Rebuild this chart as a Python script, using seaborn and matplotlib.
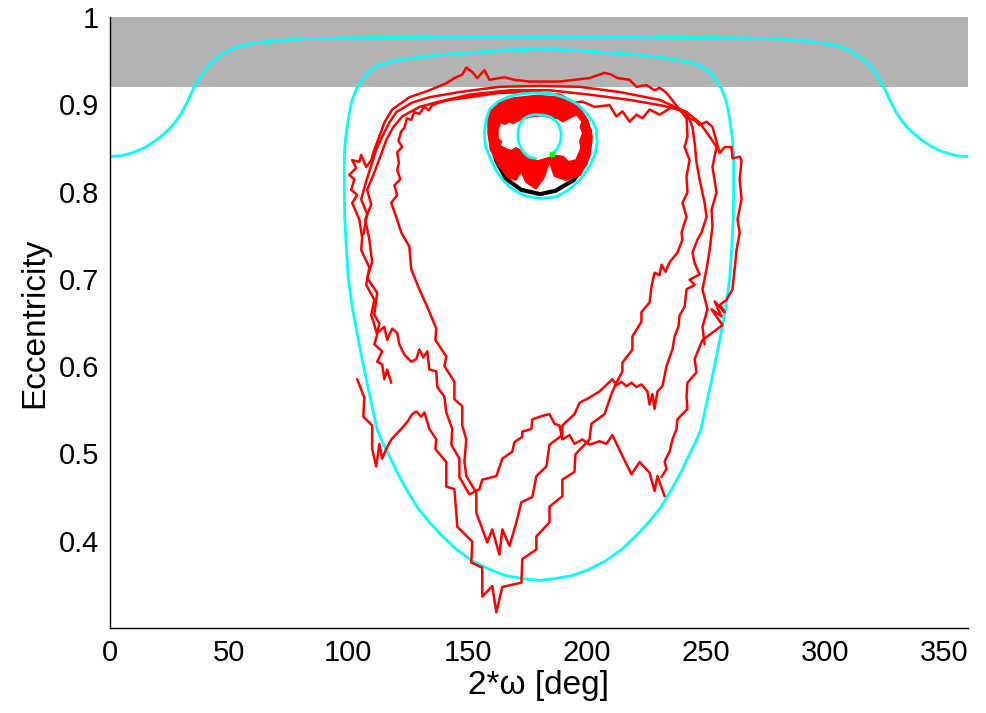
import matplotlib
matplotlib.use("Agg")
import matplotlib.pyplot as plt
import seaborn as sns
import pandas as pd

# ---- level curves of the secular Hamiltonian (cyan) ----
circ_omega = [0, 5, 10, 15, 20, 25, 27.5, 30, 32.5, 35, 37.5, 40, 42.5, 45, 47.5, 50, 55, 60, 70, 80,
              100, 140, 180, 220, 260, 280, 290, 300, 305, 310, 312.5, 315, 317.5, 320, 322.5, 325,
              327.5, 330, 332.5, 335, 340, 345, 350, 355, 360]
circ_ecc = [0.840, 0.841, 0.845, 0.851, 0.860, 0.872, 0.880, 0.890, 0.903, 0.918, 0.930, 0.940, 0.948,
            0.953, 0.958, 0.962, 0.967, 0.970, 0.973, 0.975, 0.976, 0.977, 0.977, 0.977, 0.976, 0.975,
            0.973, 0.970, 0.967, 0.962, 0.958, 0.953, 0.948, 0.940, 0.930, 0.918, 0.903, 0.890, 0.880,
            0.872, 0.860, 0.851, 0.845, 0.841, 0.840]

lib_outer = [(180.0, 0.9635), (195.0, 0.962), (209.2, 0.959), (220.0, 0.957), (230.2, 0.954),
             (240.0, 0.950), (247.0, 0.945), (251.2, 0.938), (254.2, 0.928), (256.5, 0.918),
             (258.4, 0.905), (259.6, 0.890), (260.5, 0.874), (261.2, 0.860), (261.7, 0.840),
             (261.7, 0.799), (261.5, 0.770), (260.9, 0.737), (260.0, 0.700), (258.4, 0.668),
             (255.5, 0.625), (252.5, 0.585), (247.9, 0.527), (245.5, 0.512), (242.8, 0.497),
             (239.5, 0.478), (235.7, 0.459), (231.0, 0.438), (226.0, 0.421), (220.5, 0.405),
             (214.7, 0.390), (208.0, 0.377), (200.8, 0.367), (194.0, 0.360), (185.3, 0.356),
             (180.0, 0.3545), (174.7, 0.356), (166.0, 0.360), (159.2, 0.367), (152.0, 0.377),
             (145.3, 0.390), (139.5, 0.405), (134.0, 0.421), (129.0, 0.438), (124.3, 0.459),
             (120.5, 0.478), (117.2, 0.497), (114.5, 0.512), (112.1, 0.527), (107.5, 0.585),
             (104.5, 0.625), (101.6, 0.668), (100.0, 0.700), (99.1, 0.737), (98.5, 0.770),
             (98.3, 0.799), (98.3, 0.840), (98.8, 0.860), (99.5, 0.874), (100.4, 0.890),
             (101.6, 0.905), (103.5, 0.918), (105.8, 0.928), (108.8, 0.938), (113.0, 0.945),
             (120.0, 0.950), (129.8, 0.954), (140.0, 0.957), (150.8, 0.959), (165.0, 0.962),
             (180.0, 0.9635)]

lib_inner = [(157.1, 0.867), (157.8, 0.882), (159.2, 0.894), (162.8, 0.903), (167.6, 0.909),
             (172.8, 0.912), (178.8, 0.913), (185.5, 0.912), (191.4, 0.907), (196.2, 0.900),
             (199.8, 0.890), (202.4, 0.881), (204.0, 0.871), (204.4, 0.856), (203.4, 0.842),
             (201.2, 0.829), (198.0, 0.816), (194.2, 0.806), (190.8, 0.799), (187.2, 0.794),
             (180.9, 0.792), (175.8, 0.794), (171.8, 0.798), (167.8, 0.805), (164.8, 0.813),
             (161.8, 0.825), (159.9, 0.836), (157.5, 0.852), (157.1, 0.867)]

lib_core = [(178.5, 0.838), (176.2, 0.839), (174.6, 0.842), (173.0, 0.847), (172.1, 0.852),
            (171.3, 0.858), (171.1, 0.865), (171.4, 0.872), (172.1, 0.878), (173.5, 0.883),
            (175.3, 0.886), (177.7, 0.888), (180.2, 0.888), (182.8, 0.887), (185.1, 0.885),
            (187.0, 0.881), (188.3, 0.876), (189.1, 0.870), (189.3, 0.865), (189.1, 0.859),
            (188.6, 0.854), (187.9, 0.850), (186.9, 0.847), (185.5, 0.843)]

# ---- averaged orbit (black) and dense short-period orbit (red band) ----
avg_orbit = [(160.2, 0.867), (161.2, 0.890), (167.8, 0.903), (178.8, 0.907), (190.5, 0.901),
             (198.0, 0.887), (201.3, 0.870), (201.5, 0.856), (199.5, 0.832), (194.5, 0.813),
             (187.0, 0.801), (180.5, 0.797), (172.5, 0.802), (166.0, 0.815), (162.0, 0.836),
             (160.5, 0.852), (160.2, 0.867)]

band_outer = [(158.3, 0.886), (159.3, 0.896), (162.0, 0.902), (169.0, 0.908), (178.8, 0.911),
              (188.6, 0.909), (197.0, 0.898), (200.8, 0.882), (202.6, 0.863), (201.6, 0.840),
              (197.5, 0.818), (191.4, 0.812), (186.2, 0.817), (184.4, 0.831), (182.3, 0.815),
              (178.8, 0.802), (174.3, 0.810), (172.5, 0.821), (170.4, 0.812), (166.8, 0.815),
              (162.8, 0.829), (159.3, 0.848), (158.3, 0.867)]

band_hole = [(163.1, 0.871), (164.1, 0.878), (165.8, 0.876), (167.6, 0.879), (169.2, 0.877),
             (171.1, 0.880), (173.9, 0.883), (177.4, 0.885), (180.9, 0.886), (184.4, 0.884),
             (187.5, 0.883), (190.0, 0.879), (192.8, 0.883), (195.6, 0.887), (197.7, 0.880),
             (197.0, 0.874), (198.0, 0.867), (196.8, 0.858), (197.3, 0.850), (195.3, 0.837),
             (192.5, 0.835), (190.3, 0.841), (187.5, 0.842), (184.4, 0.840), (179.5, 0.836),
             (176.0, 0.840), (173.2, 0.847), (170.4, 0.851), (168.5, 0.848), (166.9, 0.849),
             (164.1, 0.853), (164.6, 0.858), (163.1, 0.861)]

start_point = (185.5, 0.843)

# ---- chaotic orbit (red) ----
orbit_a = [
    (103.7, 0.585), (106.7, 0.564), (106.3, 0.542), (110.0, 0.532), (110.0, 0.505), (111.7, 0.485),
    (113.0, 0.511), (114.2, 0.494), (115.9, 0.505), (118.0, 0.516), (120.1, 0.522), (122.2, 0.528),
    (124.7, 0.536), (126.8, 0.545), (128.5, 0.548), (130.6, 0.542), (131.9, 0.547), (134.0, 0.528),
    (136.9, 0.516), (136.5, 0.505), (141.1, 0.490), (141.1, 0.462), (144.5, 0.459), (145.3, 0.432),
    (145.7, 0.416), (152.0, 0.399), (151.6, 0.375), (156.2, 0.369), (156.2, 0.336), (160.4, 0.348),
    (162.1, 0.318), (164.6, 0.347), (172.6, 0.352), (173.0, 0.379), (178.9, 0.390), (178.9, 0.405),
    (184.4, 0.421), (184.4, 0.439), (189.8, 0.451), (189.8, 0.470), (194.9, 0.479), (195.3, 0.499),
    (201.2, 0.516), (202.0, 0.534), (207.5, 0.545), (210.4, 0.568), (212.5, 0.581), (215.0, 0.594),
    (215.0, 0.604), (219.2, 0.619), (219.2, 0.634), (223.0, 0.651), (223.0, 0.662), (226.4, 0.673),
    (227.2, 0.691), (228.5, 0.707), (230.6, 0.704), (231.4, 0.716), (233.1, 0.708), (234.8, 0.719),
    (238.1, 0.730), (240.2, 0.745), (239.8, 0.753), (241.9, 0.771), (240.2, 0.787), (242.3, 0.799),
    (241.9, 0.817), (243.2, 0.836), (241.1, 0.851), (242.3, 0.863), (241.9, 0.886), (239.0, 0.894),
    (236.0, 0.897), (230.6, 0.888), (226.4, 0.894), (223.4, 0.884), (220.9, 0.888), (218.0, 0.880),
    (215.0, 0.892), (212.5, 0.886), (209.6, 0.899), (203.3, 0.897), (198.2, 0.903), (194.9, 0.902),
    (188.6, 0.911), (176.0, 0.914), (163.4, 0.913), (150.8, 0.908), (142.4, 0.905), (138.2, 0.902),
    (135.2, 0.899), (133.8, 0.893), (131.9, 0.897), (129.8, 0.889), (127.7, 0.891), (126.3, 0.882),
    (124.6, 0.884), (123.5, 0.873), (122.2, 0.869), (121.0, 0.858), (122.6, 0.851), (120.5, 0.845),
    (121.2, 0.833), (120.5, 0.825), (121.8, 0.814), (119.3, 0.807), (120.5, 0.796), (118.0, 0.787),
    (119.7, 0.774), (122.2, 0.753), (125.6, 0.737), (126.4, 0.711), (129.8, 0.688), (133.1, 0.668),
    (136.9, 0.643), (136.5, 0.630), (141.1, 0.611), (140.3, 0.600), (144.5, 0.582), (144.5, 0.562),
    (147.8, 0.554), (147.8, 0.532), (149.5, 0.516), (148.7, 0.491), (149.5, 0.474), (153.7, 0.455),
    (153.7, 0.432), (158.3, 0.398), (160.4, 0.413), (163.4, 0.384), (164.6, 0.413), (167.6, 0.394),
    (170.5, 0.421), (172.6, 0.444), (177.2, 0.450), (178.9, 0.474), (183.1, 0.485), (184.4, 0.510),
    (189.8, 0.521), (189.8, 0.532), (194.9, 0.545), (197.0, 0.558), (201.2, 0.564), (205.4, 0.571),
    (210.8, 0.585), (212.5, 0.578), (214.6, 0.582), (216.7, 0.577), (218.8, 0.581), (220.9, 0.576),
    (223.0, 0.579), (225.5, 0.571), (226.4, 0.556), (227.6, 0.568), (228.5, 0.551), (229.7, 0.571),
    (231.8, 0.577), (233.5, 0.600), (236.0, 0.619), (236.9, 0.634), (238.5, 0.645), (239.0, 0.658),
    (241.1, 0.668), (241.9, 0.688), (245.3, 0.693), (243.2, 0.699), (247.4, 0.705), (245.3, 0.718),
    (244.4, 0.730), (246.5, 0.745), (248.2, 0.753), (250.3, 0.771), (249.5, 0.787), (247.4, 0.814),
    (246.1, 0.833), (245.3, 0.856), (244.4, 0.874), (241.9, 0.891),
    (232.7, 0.898), (218.0, 0.905), (201.2, 0.911), (184.4, 0.916), (167.6, 0.916), (150.8, 0.911),
    (138.2, 0.903), (129.8, 0.897), (122.6, 0.886), (118.9, 0.874), (115.9, 0.859), (113.4, 0.840),
    (110.5, 0.819), (107.9, 0.802), (109.6, 0.785), (107.1, 0.768), (108.8, 0.745), (110.0, 0.719),
    (107.9, 0.701), (112.1, 0.684), (110.9, 0.659), (113.0, 0.649), (112.1, 0.638), (115.1, 0.645),
    (116.3, 0.630), (118.4, 0.643), (120.5, 0.638), (121.4, 0.625), (123.5, 0.613), (126.4, 0.605),
    (128.5, 0.608), (129.8, 0.619), (131.5, 0.610), (133.1, 0.617), (134.0, 0.596), (136.9, 0.594),
    (137.3, 0.576), (140.3, 0.565), (141.1, 0.547), (143.6, 0.528), (143.2, 0.510), (146.6, 0.494),
    (146.6, 0.473), (150.8, 0.453), (155.0, 0.459), (156.2, 0.470), (162.1, 0.474), (164.6, 0.494),
    (168.8, 0.502), (169.7, 0.513), (173.0, 0.519), (173.0, 0.525), (176.8, 0.528), (177.2, 0.539),
    (181.4, 0.543), (184.4, 0.545), (186.5, 0.534), (188.6, 0.532), (189.8, 0.516), (192.8, 0.521),
    (194.9, 0.511), (198.2, 0.516), (201.2, 0.510), (205.4, 0.514), (208.3, 0.511), (210.8, 0.521),
    (215.0, 0.497), (218.8, 0.476), (222.2, 0.490), (226.4, 0.478), (228.5, 0.457), (229.7, 0.474),
    (232.7, 0.451)]

orbit_b = [
    (118.0, 0.581), (116.3, 0.596), (115.1, 0.585), (114.2, 0.602), (112.1, 0.605), (114.2, 0.617),
    (110.9, 0.625), (112.1, 0.636), (110.5, 0.651), (109.6, 0.658), (110.9, 0.676), (107.5, 0.693),
    (108.8, 0.713), (105.4, 0.733), (105.8, 0.747), (104.6, 0.768), (101.6, 0.787), (103.7, 0.796),
    (101.2, 0.802), (102.5, 0.814), (100.4, 0.819), (103.3, 0.827), (101.6, 0.836), (104.6, 0.834),
    (105.4, 0.842), (107.5, 0.828), (109.6, 0.836), (110.9, 0.848), (113.0, 0.863), (115.1, 0.879),
    (118.4, 0.894), (125.6, 0.908), (134.0, 0.916), (141.1, 0.924), (144.5, 0.930), (147.8, 0.934),
    (149.5, 0.942), (152.0, 0.937), (154.1, 0.930), (157.1, 0.939), (159.2, 0.928), (165.5, 0.931),
    (169.7, 0.928), (176.0, 0.926), (188.6, 0.926), (201.2, 0.930), (207.5, 0.936), (210.4, 0.934),
    (212.9, 0.930), (218.0, 0.928), (220.9, 0.920), (225.1, 0.922), (228.5, 0.916), (230.6, 0.919),
    (233.5, 0.913), (239.0, 0.894), (241.9, 0.884), (245.3, 0.882), (247.4, 0.876), (250.3, 0.880),
    (252.8, 0.874), (255.8, 0.844), (257.9, 0.851), (260.8, 0.851), (261.2, 0.838), (264.2, 0.840),
    (265.0, 0.836), (264.2, 0.814), (265.0, 0.791), (263.3, 0.768), (264.2, 0.753), (262.9, 0.733),
    (262.1, 0.711), (261.2, 0.688), (258.7, 0.676), (255.8, 0.670), (257.9, 0.662), (253.7, 0.674),
    (256.6, 0.657), (252.4, 0.665), (257.0, 0.647), (251.6, 0.636), (248.6, 0.630), (245.3, 0.608),
    (246.1, 0.593), (242.3, 0.581), (241.9, 0.565), (242.3, 0.551), (238.1, 0.539), (237.7, 0.528),
    (236.0, 0.516), (234.8, 0.502), (232.7, 0.491), (233.5, 0.482), (231.4, 0.473)]

orbit_c = [
    (106.3, 0.751), (107.9, 0.774), (105.4, 0.791), (107.1, 0.808), (108.8, 0.823), (111.7, 0.848),
    (114.2, 0.863), (117.2, 0.879), (120.1, 0.891), (126.8, 0.902), (134.0, 0.908), (146.6, 0.914),
    (163.4, 0.920), (180.2, 0.921), (197.0, 0.920), (213.8, 0.914), (230.6, 0.905), (241.9, 0.891),
    (247.4, 0.879), (251.6, 0.863), (254.5, 0.851), (252.8, 0.828), (254.5, 0.799), (252.4, 0.779),
    (252.8, 0.760), (251.6, 0.733), (250.3, 0.711), (248.6, 0.688), (250.7, 0.665), (248.6, 0.645),
    (249.5, 0.625)]

x_ticks = [0, 50, 100, 150, 200, 250, 300, 350]
y_ticks = [0.4, 0.5, 0.6, 0.7, 0.8, 0.9, 1.0]
y_tick_labels = ["0.4", "0.5", "0.6", "0.7", "0.8", "0.9", "1"]
forbidden_band = (0.92, 1.0)


def frame(points):
    return pd.DataFrame(points, columns=["omega2", "ecc"])


def trace(points, color, lw, z):
    d = frame(points)
    sns.lineplot(data=d, x="omega2", y="ecc", sort=False, estimator=None,
                 color=color, lw=lw, ax=ax, zorder=z)


sns.set_theme(style="white")
plt.rcParams["font.family"] = ["Liberation Sans", "DejaVu Sans"]
plt.rcParams["text.color"] = "black"
plt.rcParams["axes.labelcolor"] = "black"

fig = plt.figure(figsize=(9.86, 7.13), dpi=100)
ax = fig.add_axes([0.1116, 0.1192, 0.8701, 0.857])

ax.axhspan(*forbidden_band, xmin=0, xmax=1, color=(0.7, 0.7, 0.7), lw=0, zorder=0)

cyan = "#00ffff"
sns.lineplot(x=circ_omega, y=circ_ecc, sort=False, estimator=None, color=cyan, lw=2.0, ax=ax, zorder=2)
trace(lib_outer, cyan, 2.0, 2)

for pts in (orbit_c, orbit_b, orbit_a):
    trace(pts, "red", 1.8, 3)

trace(avg_orbit, "black", 3.0, 4)
d = frame(band_outer)
ax.fill(d["omega2"], d["ecc"], color="red", lw=0, zorder=5)
d = frame(band_hole)
ax.fill(d["omega2"], d["ecc"], color="white", lw=0, zorder=5.5)

trace(lib_inner, cyan, 2.0, 6)
trace(lib_core, cyan, 2.0, 6)

ax.plot([start_point[0]], [start_point[1]], marker="s", ms=3, color="#00ff00", lw=0, zorder=7)

ax.set_xlim(0, 360)
ax.set_ylim(0.3, 1.0)
ax.set_xticks(x_ticks)
ax.set_yticks(y_ticks)
ax.set_yticklabels(y_tick_labels)
ax.tick_params(direction="in", length=6, width=1, labelsize=21, pad=8, colors="black")
for side in ("top", "right"):
    ax.spines[side].set_visible(False)
for side in ("left", "bottom"):
    ax.spines[side].set_color("black")
    ax.spines[side].set_linewidth(1.0)
ax.set_facecolor("white")
ax.set_xlabel("2*ω [deg]", fontsize=24, labelpad=2, color="black")
ax.set_ylabel("Eccentricity", fontsize=24, labelpad=6, color="black")

fig.savefig("out.png", dpi=100, facecolor="white")
